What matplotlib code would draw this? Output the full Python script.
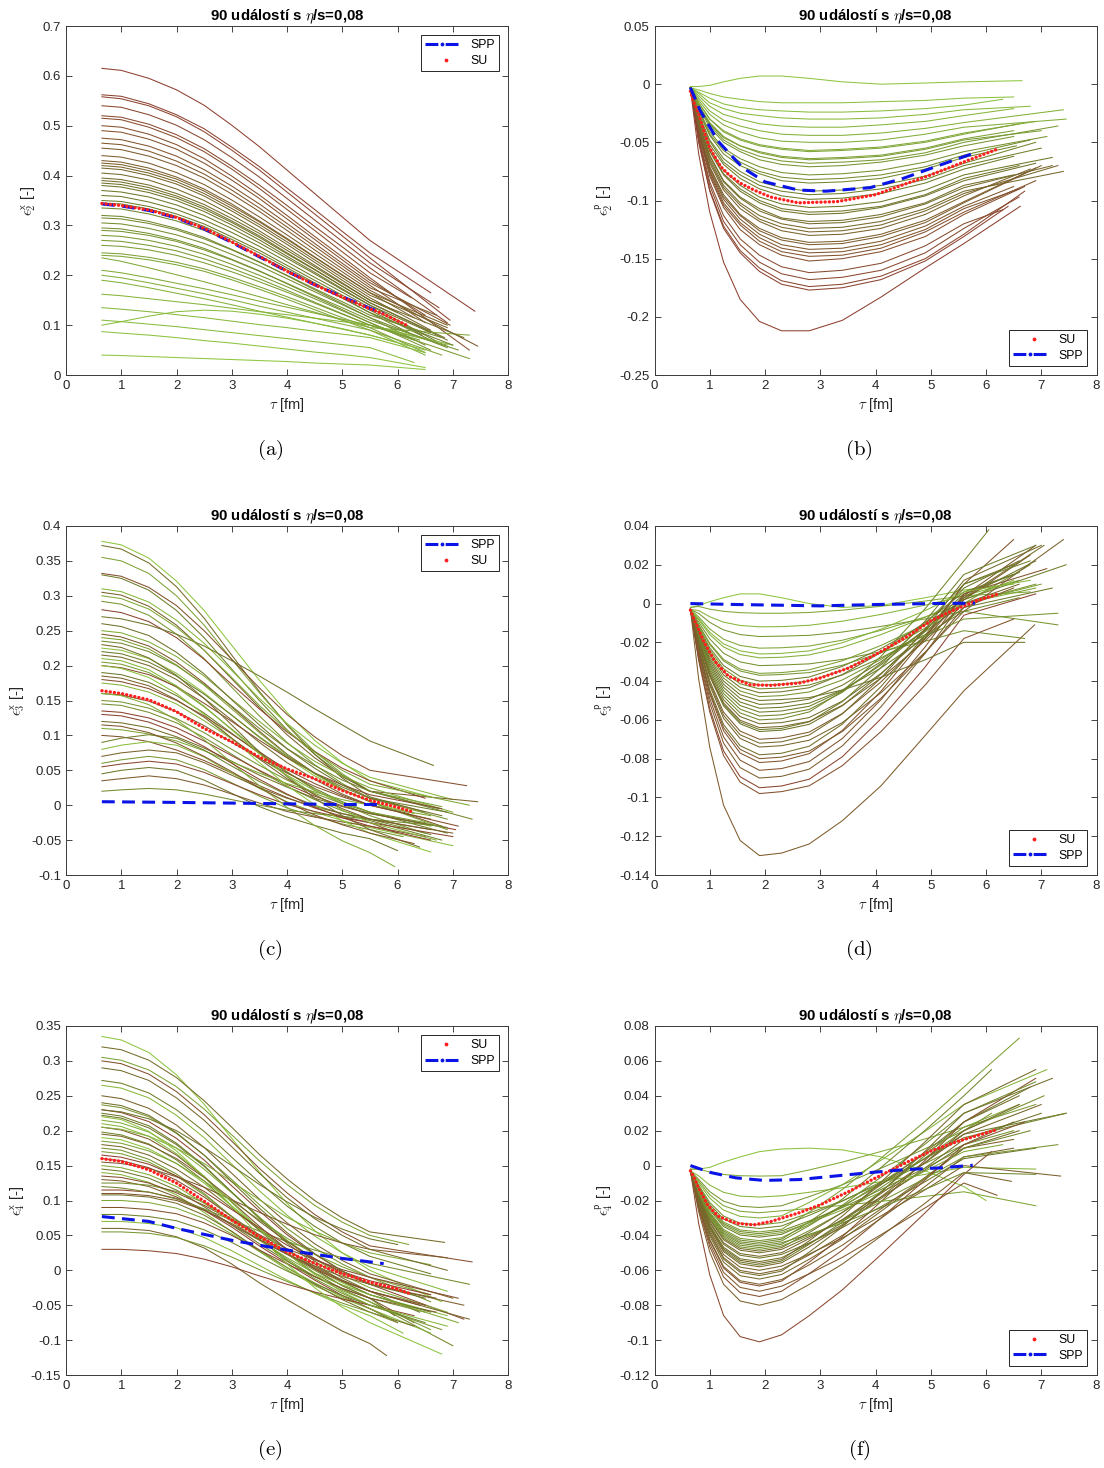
import numpy as np
import matplotlib
matplotlib.use("Agg")
import matplotlib.pyplot as plt
from matplotlib.colors import LinearSegmentedColormap
from matplotlib.legend_handler import HandlerLine2D
from matplotlib.lines import Line2D
from matplotlib.ticker import FuncFormatter

plt.rcParams['font.family'] = ['Liberation Sans', 'DejaVu Sans']
plt.rcParams['mathtext.fontset'] = 'cm'

# sampling times of the event curves (x-space and p-space eccentricities)
tau_x = [0.65, 1, 1.5, 2, 2.5, 3, 3.5, 4, 4.5, 5, 5.5]
tau_p = [0.65, 0.8, 1.0, 1.25, 1.55, 1.9, 2.3, 2.8, 3.4, 4.1, 4.9, 5.6]

# ---------------- eps_2^x ----------------
a_curves = [
    [.615, .611, .595, .572, .541, .501, .458, .411, .364, .317, .270],
    [.562, .559, .544, .522, .494, .457, .418, .375, .332, .288, .245],
    [.558, .554, .540, .518, .488, .451, .411, .367, .323, .279, .235],
    [.540, .537, .522, .501, .472, .436, .397, .354, .311, .268, .225],
    [.520, .517, .503, .482, .454, .419, .381, .340, .298, .257, .215],
    [.515, .512, .497, .476, .448, .413, .374, .332, .290, .247, .205],
    [.500, .497, .483, .462, .434, .399, .361, .320, .278, .237, .195],
    [.490, .487, .473, .453, .425, .391, .354, .313, .272, .231, .190],
    [.475, .472, .459, .439, .412, .379, .343, .304, .264, .224, .185],
    [.465, .462, .449, .429, .403, .371, .335, .297, .258, .219, .180],
    [.440, .437, .425, .406, .382, .351, .317, .281, .244, .207, .170],
    [.425, .422, .410, .393, .369, .339, .307, .272, .236, .200, .165],
    [.420, .417, .405, .388, .364, .334, .302, .267, .231, .195, .160],
    [.415, .412, .400, .383, .359, .329, .297, .262, .226, .190, .155],
    [.395, .392, .381, .364, .342, .314, .284, .250, .217, .183, .150],
    [.390, .387, .376, .359, .337, .309, .279, .245, .212, .178, .145],
    [.385, .382, .371, .355, .333, .306, .276, .243, .211, .178, .145],
    [.370, .367, .357, .341, .320, .294, .265, .234, .203, .171, .140],
    [.360, .358, .347, .332, .311, .286, .258, .227, .196, .166, .135],
    [.350, .348, .338, .323, .303, .277, .250, .220, .190, .160, .130],
    [.335, .333, .323, .309, .290, .266, .239, .211, .182, .154, .125],
    [.320, .318, .308, .294, .276, .252, .227, .199, .171, .143, .115],
    [.305, .303, .294, .281, .264, .242, .219, .193, .167, .141, .115],
    [.295, .293, .284, .271, .254, .232, .209, .183, .157, .131, .105],
    [.280, .278, .270, .258, .242, .222, .200, .177, .153, .129, .105],
    [.270, .268, .260, .249, .233, .214, .193, .170, .146, .123, .100],
    [.245, .243, .236, .226, .213, .196, .177, .157, .136, .115, .095],
    [.240, .238, .231, .221, .208, .191, .172, .152, .131, .110, .090],
    [.235, .228, .215, .201, .187, .172, .157, .141, .126, .110, .095],
    [.210, .205, .195, .184, .173, .161, .148, .136, .124, .112, .100],
    [.200, .195, .185, .174, .163, .151, .138, .126, .114, .102, .090],
    [.190, .185, .175, .164, .153, .141, .128, .116, .104, .092, .080],
    [.162, .159, .153, .147, .141, .134, .127, .121, .114, .107, .100],
    [.135, .132, .127, .121, .115, .108, .101, .095, .088, .082, .075],
    [.100, .107, .118, .127, .130, .128, .122, .114, .104, .093, .080],
    [.110, .107, .102, .097, .091, .085, .079, .073, .067, .061, .055],
    [.087, .084, .080, .075, .069, .064, .058, .052, .046, .041, .035],
    [.040, .039, .037, .035, .033, .031, .029, .027, .024, .022, .020],
    [.430, .427, .415, .397, .373, .343, .309, .274, .237, .201, .165],
    [.405, .402, .391, .373, .350, .321, .289, .255, .220, .185, .150],
    [.380, .377, .366, .350, .328, .301, .271, .238, .206, .173, .140],
    [.345, .343, .333, .318, .298, .272, .245, .215, .185, .155, .125],
    [.315, .313, .304, .291, .273, .251, .226, .200, .173, .147, .120],
    [.290, .288, .280, .268, .251, .231, .208, .184, .159, .135, .110],
    [.260, .258, .251, .240, .225, .207, .187, .166, .144, .122, .100],
    [.455, .452, .439, .420, .395, .363, .328, .290, .251, .213, .175],
]
a_end_tau = [7.4, 6.6, 6.95, 6.75, 6.9, 6.25, 7.3, 6.5, 6.95, 6.5, 7.45, 6.3, 6.9, 6.6, 6.0, 6.85, 6.9, 6.7, 6.45,
             6.6, 6.2, 6.9, 6.5, 6.3, 6.6, 7.3, 6.5, 6.8, 7.3, 6.9, 6.5, 6.0, 7.0, 6.5, 6.5, 6.3, 6.5, 6.5,
             6.9, 7.2, 6.6, 7.0, 6.8, 7.1, 6.4, 6.7]
a_end_val = [.128, .165, .11, .135, .105, .155, .05, .12, .10, .105, .058, .115, .095, .09, .125, .075, .07, .068, .08,
             .07, .085, .055, .06, .07, .05, .033, .045, .04, .08, .06, .04, .065, .06, .045, .05, .025, .015, .011,
             .10, .075, .085, .06, .075, .05, .07, .12]
a_su_tau = [0.65, 1, 1.5, 2, 2.5, 3, 3.5, 4, 4.5, 5, 5.5, 5.75, 6.2]
a_su = [.344, .340, .331, .316, .294, .267, .238, .208, .181, .156, .133, .122, .098]
a_spp_tau = [0.65, 1, 1.5, 2, 2.5, 3, 3.5, 4, 4.5, 5, 5.5, 5.75]
a_spp = [.343, .339, .330, .315, .293, .266, .237, .208, .181, .157, .134, .123]

# ---------------- eps_2^p ----------------
b_curves = [
    [-.002, -.002, -.001, .002, .005, .007, .007, .005, .002, .000, .001, .002],
    [-.003, -.005, -.008, -.011, -.013, -.015, -.016, -.016, -.016, -.015, -.014, -.012],
    [-.003, -.007, -.012, -.017, -.020, -.022, -.023, -.024, -.024, -.023, -.021, -.018],
    [-.003, -.008, -.016, -.021, -.025, -.027, -.029, -.030, -.030, -.029, -.026, -.022],
    [-.003, -.010, -.019, -.026, -.030, -.034, -.036, -.037, -.037, -.035, -.032, -.027],
    [-.003, -.012, -.023, -.031, -.036, -.040, -.043, -.044, -.044, -.042, -.038, -.033],
    [-.003, -.014, -.026, -.035, -.041, -.046, -.049, -.050, -.050, -.048, -.043, -.037],
    [-.003, -.016, -.030, -.040, -.047, -.052, -.055, -.057, -.056, -.054, -.049, -.042],
    [-.003, -.018, -.033, -.045, -.053, -.058, -.062, -.064, -.063, -.061, -.055, -.047],
    [-.003, -.018, -.034, -.046, -.053, -.059, -.063, -.065, -.064, -.062, -.056, -.048],
    [-.003, -.020, -.037, -.050, -.058, -.065, -.069, -.071, -.070, -.067, -.061, -.053],
    [-.003, -.022, -.041, -.055, -.064, -.071, -.076, -.078, -.077, -.074, -.067, -.058],
    [-.003, -.024, -.044, -.060, -.070, -.077, -.083, -.085, -.084, -.081, -.073, -.063],
    [-.003, -.026, -.048, -.064, -.075, -.084, -.089, -.092, -.091, -.087, -.079, -.068],
    [-.003, -.028, -.052, -.069, -.081, -.090, -.096, -.099, -.098, -.094, -.085, -.073],
    [-.003, -.030, -.055, -.074, -.087, -.097, -.103, -.106, -.105, -.101, -.091, -.078],
    [-.003, -.031, -.058, -.078, -.092, -.102, -.109, -.112, -.111, -.106, -.096, -.083],
    [-.003, -.033, -.061, -.083, -.097, -.107, -.115, -.118, -.117, -.112, -.102, -.087],
    [-.003, -.034, -.062, -.084, -.098, -.109, -.116, -.120, -.119, -.114, -.103, -.089],
    [-.003, -.035, -.064, -.087, -.102, -.113, -.120, -.124, -.123, -.118, -.107, -.092],
    [-.003, -.036, -.068, -.091, -.107, -.118, -.126, -.130, -.129, -.124, -.112, -.096],
    [-.003, -.038, -.071, -.095, -.112, -.124, -.132, -.136, -.135, -.129, -.117, -.101],
    [-.003, -.040, -.074, -.099, -.116, -.129, -.138, -.142, -.141, -.135, -.122, -.105],
    [-.003, -.041, -.075, -.102, -.119, -.132, -.141, -.145, -.144, -.138, -.125, -.107],
    [-.003, -.041, -.077, -.104, -.121, -.135, -.144, -.148, -.147, -.141, -.127, -.110],
    [-.003, -.045, -.084, -.113, -.133, -.147, -.157, -.162, -.160, -.154, -.139, -.120],
    [-.003, -.047, -.087, -.118, -.138, -.153, -.163, -.168, -.166, -.160, -.145, -.124],
    [-.003, -.049, -.091, -.122, -.143, -.158, -.169, -.174, -.172, -.165, -.150, -.129],
    [-.003, -.050, -.092, -.124, -.145, -.161, -.172, -.177, -.175, -.168, -.152, -.131],
    [-.004, -.060, -.110, -.153, -.185, -.204, -.212, -.212, -.203, -.183, -.158, -.137],
    [-.003, -.019, -.035, -.048, -.056, -.062, -.066, -.068, -.067, -.065, -.059, -.050],
    [-.003, -.023, -.043, -.057, -.067, -.075, -.080, -.082, -.081, -.078, -.071, -.061],
    [-.003, -.027, -.049, -.067, -.078, -.087, -.092, -.095, -.094, -.090, -.082, -.070],
    [-.003, -.031, -.057, -.077, -.090, -.100, -.107, -.110, -.109, -.105, -.095, -.081],
    [-.003, -.036, -.066, -.089, -.104, -.116, -.123, -.127, -.126, -.121, -.109, -.094],
    [-.003, -.039, -.072, -.097, -.113, -.126, -.134, -.138, -.137, -.131, -.119, -.102],
    [-.003, -.016, -.030, -.041, -.048, -.053, -.056, -.058, -.057, -.055, -.050, -.043],
    [-.003, -.043, -.079, -.106, -.125, -.138, -.147, -.152, -.150, -.144, -.131, -.112],
]
b_end_tau = [6.65, 6.5, 6.3, 6.8, 6.5, 7.4, 7.45, 6.9, 6.5, 7.0, 6.5, 7.1, 6.55, 6.9, 6.5,
             7.2, 6.9, 6.5, 7.2, 7.4, 6.8, 6.9, 6.5, 6.6, 6.9, 6.3, 6.6, 6.7, 6.4, 6.62,
             7.3, 6.8, 7.0, 6.6, 7.3, 7.0, 6.6, 6.7]
b_end_val = [.003, -.011, -.013, -.019, -.021, -.022, -.030, -.032, -.040, -.040, -.045, -.045, -.053, -.050, -.062,
             -.063, -.068, -.078, -.070, -.075, -.073, -.072, -.088, -.090, -.083, -.108, -.097, -.092, -.105, -.105,
             -.036, -.048, -.055, -.070, -.070, -.070, -.034, -.088]
b_su_tau = [0.65, 0.7, 0.8, 0.9, 1.0, 1.1, 1.2, 1.35, 1.55, 1.8, 2.1, 2.6, 3.3, 4.0, 5.0, 5.7, 6.2]
b_su = [-.006, -.014, -.026, -.041, -.055, -.063, -.071, -.078, -.085, -.091, -.097,
        -.102, -.101, -.095, -.078, -.065, -.056]
b_spp_tau = [0.65, 0.83, 1.15, 1.6, 2.0, 2.6, 3.1, 3.9, 4.5, 5.2, 5.8]
b_spp = [-.003, -.023, -.049, -.072, -.084, -.091, -.092, -.089, -.081, -.069, -.059]

# ---------------- eps_3^x ----------------
c_curves = [
    [.378, .373, .354, .321, .279, .229, .179, .133, .093, .061, .035],
    [.372, .367, .347, .313, .268, .215, .163, .115, .073, .039, .012],
    [.355, .350, .332, .300, .258, .209, .161, .116, .077, .045, .020],
    [.332, .328, .312, .286, .250, .209, .168, .130, .098, .071, .050],
    [.330, .325, .308, .279, .240, .195, .150, .108, .073, .043, .020],
    [.310, .306, .291, .265, .232, .193, .153, .117, .086, .060, .040],
    [.305, .301, .285, .258, .222, .181, .140, .101, .068, .041, .020],
    [.292, .288, .272, .245, .210, .169, .128, .090, .058, .031, .010],
    [.280, .276, .263, .240, .209, .173, .138, .105, .077, .053, .035],
    [.270, .267, .258, .245, .228, .207, .185, .162, .138, .115, .092],
    [.250, .247, .234, .213, .185, .152, .120, .089, .063, .042, .025],
    [.245, .241, .228, .205, .175, .141, .106, .073, .046, .023, .005],
    [.235, .232, .220, .200, .173, .142, .110, .081, .057, .036, .020],
    [.225, .222, .210, .189, .161, .129, .097, .068, .042, .022, .005],
    [.215, .212, .200, .180, .153, .122, .090, .061, .037, .016, .000],
    [.205, .202, .190, .169, .141, .109, .077, .048, .022, .002, -.015],
    [.200, .197, .187, .170, .146, .120, .093, .068, .046, .029, .015],
    [.190, .187, .176, .157, .132, .103, .074, .047, .024, .005, -.010],
    [.175, .172, .162, .145, .121, .095, .068, .043, .021, .004, -.010],
    [.160, .158, .149, .134, .114, .090, .067, .046, .027, .012, .000],
    [.145, .143, .133, .118, .097, .073, .049, .027, .008, -.008, -.020],
    [.135, .133, .125, .111, .092, .071, .050, .030, .013, -.001, -.012],
    [.120, .118, .111, .098, .082, .063, .043, .026, .010, -.002, -.012],
    [.110, .108, .102, .092, .078, .062, .046, .031, .019, .008, .000],
    [.100, .098, .091, .079, .064, .046, .028, .011, -.004, -.016, -.025],
    [.090, .096, .101, .096, .079, .056, .034, .015, .000, -.012, -.022],
    [.080, .086, .091, .086, .069, .046, .024, .005, -.010, -.022, -.032],
    [.070, .075, .079, .075, .061, .043, .025, .010, -.002, -.012, -.020],
    [.060, .065, .070, .065, .051, .032, .013, -.004, -.016, -.027, -.035],
    [.055, .059, .063, .059, .047, .031, .015, .001, -.009, -.018, -.025],
    [.045, .050, .054, .050, .036, .017, -.002, -.017, -.029, -.040, -.048],
    [.160, .157, .144, .122, .094, .061, .028, -.003, -.029, -.051, -.068],
    [.035, .038, .042, .038, .029, .016, .003, -.009, -.017, -.024, -.030],
    [.020, .022, .024, .022, .016, .008, .000, -.007, -.012, -.016, -.020],
    [.200, .196, .183, .160, .130, .096, .061, .028, .001, -.022, -.040],
    [.230, .226, .211, .186, .153, .115, .076, .041, .010, -.015, -.035],
    [.240, .237, .224, .201, .172, .138, .104, .072, .045, .023, .005],
    [.180, .177, .167, .150, .128, .102, .076, .051, .031, .014, .000],
    [.220, .217, .205, .185, .159, .129, .098, .070, .046, .026, .010],
    [.210, .207, .194, .171, .142, .108, .074, .042, .015, -.007, -.025],
    [.185, .182, .171, .151, .126, .096, .066, .038, .015, -.005, -.020],
    [.150, .148, .139, .124, .104, .080, .057, .036, .017, .002, -.010],
    [.130, .128, .119, .104, .084, .060, .037, .016, -.003, -.018, -.030],
    [.260, .256, .243, .219, .188, .151, .115, .081, .053, .029, .010],
    [.300, .296, .281, .255, .222, .183, .143, .107, .076, .050, .030],
    [.115, .113, .104, .089, .070, .048, .025, .004, -.014, -.028, -.040],
]
c_end_tau = [6.6, 6.5, 6.8, 7.25, 6.75, 7.0, 7.45, 6.9, 6.5, 6.65, 7.0, 6.8, 7.35, 6.3, 6.6, 6.5, 6.8, 6.9, 6.6,
             6.2, 6.6, 7.05, 6.9, 6.6, 6.0, 6.8, 7.0, 6.6, 6.1, 7.0, 6.0, 5.95, 6.5, 6.8, 6.6, 6.4, 6.9, 7.1,
             6.9, 6.7, 7.0, 6.5, 6.6, 6.8, 7.3, 6.3]
c_end_val = [.012, -.010, -.002, .028, -.005, .008, .005, -.020, .010, .057, -.010, -.030, -.020, -.012, -.020,
             -.040, -.005, -.040, -.030, -.012, -.042, -.035, -.032, -.015, -.040, -.050, -.058, -.035, -.045,
             -.045, -.065, -.088, -.045, -.030, -.067, -.060, -.035, -.030,
             -.010, -.050, -.040, -.025, -.050, -.015, .000, -.055]
c_su_tau = [0.65, 1, 1.5, 2, 2.5, 3, 3.5, 4, 4.5, 5, 5.5, 6, 6.25]
c_su = [.164, .160, .151, .134, .110, .091, .069, .052, .038, .021, .007, -.003, -.009]
c_spp_tau = [0.65, 2, 3, 4, 5, 5.75]
c_spp = [.005, .004, .003, .002, .001, .001]

# ---------------- eps_3^p ----------------
d_curves = [
    [-.002, -.001, .001, .003, .005, .005, .003, .000, -.002, -.001, .003, .007],
    [-.002, -.0015, -.0029, -.004, -.0047, -.005, -.005, -.0046, -.0034, -.0014, .0013, .004],
    [-.003, -.0036, -.0068, -.0096, -.0113, -.012, -.0119, -.0112, -.0091, -.0056, -.0008, .004],
    [-.003, -.0051, -.0097, -.0136, -.016, -.017, -.0168, -.0164, -.0147, -.0118, -.0079, -.004],
    [-.003, -.0069, -.0131, -.0184, -.0216, -.023, -.0228, -.0219, -.0189, -.0138, -.0069, .000],
    [-.003, -.0084, -.016, -.0224, -.0263, -.028, -.0277, -.0265, -.0226, -.016, -.007, .002],
    [-.003, -.0096, -.0182, -.0256, -.0301, -.032, -.0317, -.0311, -.0288, -.0248, -.0194, -.014],
    [-.003, -.0108, -.0205, -.0288, -.0338, -.036, -.0356, -.0342, -.0295, -.0216, -.0108, .000],
    [-.003, -.012, -.0228, -.032, -.0376, -.040, -.0396, -.0379, -.0324, -.0232, -.0106, .002],
    [-.003, -.0132, -.0251, -.0352, -.0414, -.044, -.0436, -.042, -.0368, -.028, -.016, -.004],
    [-.003, -.0144, -.0274, -.0384, -.0451, -.048, -.0475, -.0456, -.0394, -.0288, -.0144, .000],
    [-.003, -.0156, -.0296, -.0416, -.0489, -.052, -.0515, -.0493, -.0421, -.030, -.0135, .003],
    [-.003, -.0168, -.0319, -.0448, -.0526, -.056, -.0554, -.053, -.045, -.0316, -.0133, .005],
    [-.003, -.018, -.0342, -.048, -.0564, -.060, -.0594, -.0559, -.0452, -.0272, -.0026, .022],
    [-.003, -.0186, -.0353, -.0496, -.0583, -.062, -.0614, -.0588, -.0503, -.036, -.0165, .003],
    [-.003, -.0198, -.0376, -.0528, -.062, -.066, -.0653, -.0623, -.0527, -.0364, -.0142, .008],
    [-.003, -.021, -.0399, -.056, -.0658, -.070, -.0693, -.0663, -.0567, -.0404, -.0182, .004],
    [-.003, -.0222, -.0422, -.0592, -.0696, -.074, -.0733, -.0705, -.0614, -.046, -.025, -.004],
    [-.003, -.0234, -.0445, -.0624, -.0733, -.078, -.0772, -.0736, -.0622, -.0428, -.0164, .010],
    [-.003, -.0246, -.0467, -.0656, -.0771, -.082, -.0812, -.0774, -.0654, -.0452, -.0176, .010],
    [-.003, -.027, -.0513, -.072, -.0846, -.090, -.0891, -.0854, -.0734, -.0532, -.0256, .002],
    [-.003, -.0285, -.0542, -.076, -.0893, -.095, -.0941, -.0906, -.079, -.0594, -.0327, -.006],
    [-.003, -.0294, -.0559, -.0784, -.0921, -.098, -.097, -.094, -.0836, -.066, -.042, -.018],
    [-.003, -.039, -.0741, -.104, -.1222, -.130, -.1287, -.124, -.112, -.094, -.068, -.045],
    [-.003, -.015, -.0285, -.040, -.047, -.050, -.0495, -.0485, -.0446, -.038, -.029, -.020],
    [-.003, -.0111, -.0211, -.0296, -.0348, -.037, -.0366, -.0356, -.0318, -.0254, -.0167, -.008],
    [-.003, -.0195, -.0371, -.052, -.0611, -.065, -.0644, -.061, -.0506, -.033, -.009, .015],
    [-.003, -.0258, -.049, -.0688, -.0808, -.086, -.0851, -.0815, -.0696, -.0496, -.0223, .005],
    [-.003, -.0126, -.0239, -.0336, -.0395, -.042, -.0416, -.0399, -.0344, -.0252, -.0126, .000],
    [-.003, -.0138, -.0262, -.0368, -.0432, -.046, -.0455, -.0434, -.0366, -.0252, -.0096, .006],
    [-.003, -.0162, -.0308, -.0432, -.0508, -.054, -.0535, -.0514, -.0446, -.0332, -.0176, -.002],
    [-.003, -.0174, -.0331, -.0464, -.0545, -.058, -.0574, -.0546, -.0458, -.0308, -.0104, .010],
    [-.003, -.0192, -.0365, -.0512, -.0602, -.064, -.0634, -.0608, -.0525, -.0384, -.0192, .000],
    [-.003, -.0216, -.041, -.0576, -.0677, -.072, -.0713, -.0678, -.0569, -.0384, -.0132, .012],
    [-.003, -.0078, -.0148, -.0208, -.0244, -.026, -.0257, -.0244, -.0202, -.0132, -.0036, .006],
    [-.003, -.024, -.0456, -.064, -.0752, -.080, -.0792, -.0761, -.066, -.0488, -.0254, -.002],
]
d_end_tau = [6.5, 6.8, 6.6, 7.3, 6.9, 6.5, 6.7, 7.0, 7.45, 6.6, 6.8, 6.9, 6.5, 6.05, 7.05, 6.6, 6.9,
             7.4, 6.5, 6.5, 6.8, 6.9, 6.5, 6.88, 6.7, 7.3, 6.9, 7.1,
             6.9, 6.6, 7.2, 6.8, 6.6, 7.0, 6.8, 6.5]
d_end_val = [.010, .006, .012, -.011, .008, .012, -.018, .010, .020, .003, .020, .022, .015, .038, .030, .022, .030,
             .033, .020, .033, .025, .005, -.008, -.011, -.020, -.005, .030, .018,
             .010, .016, .008, .022, .010, .030, .012, .008]
d_su_tau = [0.65, 0.7, 0.77, 0.9, 1.09, 1.34, 1.73, 2.11, 2.62, 3.0, 3.52, 4.0, 4.54, 5.0, 5.38, 5.82, 6.22]
d_su = [-.0034, -.007, -.0116, -.020, -.0297, -.0375, -.0419, -.0422, -.041, -.0384, -.0332,
        -.0263, -.0176, -.009, -.0038, .0014, .0049]
d_spp_tau = [0.65, 1.5, 3.0, 4.0, 5.0, 5.8]
d_spp = [.000, -.0005, -.0012, -.0005, .000, .0002]

# ---------------- eps_4^x ----------------
e_curves = [
    [.335, .330, .312, .280, .238, .189, .141, .096, .057, .025, .000],
    [.320, .316, .301, .276, .243, .205, .166, .131, .100, .075, .055],
    [.305, .301, .287, .263, .231, .194, .157, .123, .093, .069, .050],
    [.300, .296, .281, .256, .223, .185, .146, .111, .080, .055, .035],
    [.272, .268, .254, .230, .199, .162, .126, .092, .063, .039, .020],
    [.265, .261, .247, .222, .190, .152, .114, .079, .049, .025, .005],
    [.250, .246, .232, .208, .176, .139, .102, .068, .038, .014, -.005],
    [.237, .233, .220, .196, .165, .130, .094, .060, .032, .009, -.010],
    [.230, .226, .213, .189, .158, .121, .085, .051, .023, -.001, -.020],
    [.222, .218, .204, .180, .149, .112, .076, .042, .013, -.011, -.030],
    [.215, .211, .198, .175, .145, .111, .076, .043, .016, -.007, -.025],
    [.205, .201, .188, .165, .134, .098, .063, .030, .002, -.022, -.040],
    [.198, .194, .181, .158, .128, .092, .057, .024, -.004, -.027, -.045],
    [.190, .187, .174, .153, .125, .092, .060, .029, .003, -.018, -.035],
    [.180, .177, .165, .145, .119, .089, .058, .030, .006, -.014, -.030],
    [.170, .167, .155, .135, .108, .077, .045, .016, -.009, -.029, -.045],
    [.160, .157, .147, .129, .105, .077, .050, .024, .002, -.016, -.030],
    [.145, .142, .132, .115, .091, .065, .038, .013, -.009, -.026, -.040],
    [.140, .137, .126, .108, .083, .055, .027, .001, -.022, -.040, -.055],
    [.130, .128, .120, .105, .087, .065, .043, .023, .006, -.009, -.020],
    [.125, .125, .122, .113, .097, .074, .047, .023, .000, -.022, -.040],
    [.115, .115, .112, .103, .086, .062, .035, .010, -.014, -.036, -.055],
    [.108, .108, .105, .096, .079, .056, .029, .004, -.020, -.042, -.060],
    [.100, .100, .097, .089, .074, .052, .027, .004, -.018, -.038, -.055],
    [.090, .090, .087, .081, .068, .050, .029, .009, -.009, -.026, -.040],
    [.080, .080, .077, .071, .058, .040, .019, -.001, -.019, -.036, -.050],
    [.070, .070, .067, .061, .047, .028, .007, -.014, -.033, -.050, -.065],
    [.060, .060, .057, .048, .032, .009, -.018, -.042, -.065, -.087, -.105],
    [.055, .055, .053, .047, .035, .019, .001, -.016, -.032, -.047, -.060],
    [.030, .030, .028, .024, .016, .005, -.008, -.020, -.031, -.041, -.050],
    [.230, .227, .217, .200, .176, .150, .123, .098, .076, .059, .045],
    [.205, .202, .192, .175, .153, .127, .101, .076, .056, .039, .025],
    [.155, .153, .146, .134, .119, .101, .083, .066, .051, .039, .030],
    [.120, .118, .112, .102, .088, .072, .056, .041, .029, .018, .010],
    [.220, .216, .199, .171, .134, .092, .049, .009, -.025, -.053, -.075],
    [.290, .286, .272, .247, .215, .177, .139, .104, .074, .050, .030],
    [.185, .182, .171, .153, .128, .100, .072, .046, .023, .005, -.010],
    [.135, .133, .125, .111, .093, .072, .051, .031, .015, .001, -.010],
    [.225, .221, .207, .182, .150, .112, .074, .039, .009, -.016, -.035],
    [.210, .206, .192, .167, .135, .097, .059, .024, -.006, -.031, -.050],
    [.195, .192, .180, .160, .133, .102, .070, .041, .017, -.004, -.020],
    [.175, .172, .159, .138, .110, .077, .045, .014, -.012, -.033, -.050],
    [.165, .162, .152, .135, .113, .087, .061, .036, .016, -.002, -.015],
    [.240, .236, .222, .197, .165, .127, .089, .054, .024, -.001, -.020],
    [.150, .147, .137, .120, .096, .070, .043, .018, -.004, -.021, -.035],
    [.110, .110, .107, .100, .086, .067, .044, .023, .004, -.015, -.030],
]
e_end_tau = [6.8, 6.85, 6.2, 7.35, 6.6, 6.9, 7.0, 6.6, 7.2, 6.4, 6.9, 6.3, 7.0, 6.9, 7.3, 6.6, 6.5, 5.95, 6.6,
             6.7, 6.5, 6.0, 6.3, 5.9, 6.7, 6.5, 6.1, 5.8, 6.0, 6.3, 6.0, 6.6, 6.9, 7.3, 6.8, 6.9, 6.6, 7.1,
             6.6, 6.9, 7.2, 6.8, 6.6, 6.5, 7.1, 6.4]
e_end_val = [-.045, .040, .037, .012, -.005, -.030, -.040, -.045, -.070, -.060, -.060, -.075, -.108, -.065, -.070,
             -.085, -.050, -.065, -.090, -.040, -.060, -.075, -.080, -.070, -.060, -.075, -.090, -.122, -.075,
             -.065, .037, .008, .018, -.020, -.120, .000, -.035, -.040,
             -.060, -.080, -.050, -.085, -.035, -.040, -.075, -.050]
e_su_tau = [0.65, 1, 1.5, 2, 2.5, 3, 3.5, 4, 4.5, 5, 5.5, 6, 6.21]
e_su = [.160, .156, .144, .125, .099, .072, .048, .026, .010, -.005, -.017, -.027, -.033]
e_spp_tau = [0.65, 1.5, 2, 3, 4, 5, 5.75]
e_spp = [.077, .070, .060, .043, .029, .017, .0096]

# ---------------- eps_4^p ----------------
f_curves = [
    [-.002, -.002, -.001, .002, .005, .008, .0095, .010, .009, .005, -.003, -.012],
    [-.002, -.002, -.0037, -.0051, -.0058, -.006, -.0058, -.0025, .002, .0081, .0153, .022],
    [-.003, -.0059, -.0112, -.0153, -.0175, -.018, -.0173, -.0153, -.0127, -.0092, -.005, -.001],
    [-.003, -.0079, -.0149, -.0204, -.0233, -.024, -.023, -.0178, -.011, -.0015, .0097, .020],
    [-.003, -.0089, -.0167, -.023, -.0262, -.027, -.0259, -.0246, -.0228, -.0205, -.0176, -.015],
    [-.003, -.0099, -.0186, -.0255, -.0291, -.030, -.0288, -.0211, -.0109, .0031, .0197, .035],
    [-.003, -.0112, -.0211, -.0289, -.033, -.034, -.0326, -.0272, -.0201, -.0103, .0013, .012],
    [-.003, -.0125, -.0236, -.0323, -.0369, -.038, -.0365, -.0267, -.0137, .0043, .0254, .045],
    [-.003, -.0135, -.0254, -.0349, -.0398, -.041, -.0394, -.0325, -.0233, -.0107, .0042, .018],
    [-.003, -.0145, -.0273, -.0374, -.0427, -.044, -.0422, -.0323, -.0192, -.0011, .0203, .040],
    [-.003, -.0155, -.0291, -.040, -.0456, -.047, -.0451, -.0373, -.0269, -.0126, .0044, .020],
    [-.003, -.0165, -.031, -.0425, -.0485, -.050, -.048, -.0408, -.0312, -.018, -.0024, .012],
    [-.003, -.0175, -.0329, -.0451, -.0514, -.053, -.0509, -.0443, -.0355, -.0235, -.0092, .004],
    [-.003, -.0188, -.0353, -.0485, -.0553, -.057, -.0547, -.0451, -.0324, -.0149, .0059, .025],
    [-.003, -.0198, -.0372, -.051, -.0582, -.060, -.0576, -.0507, -.0415, -.0288, -.0138, .000],
    [-.003, -.0215, -.0403, -.0553, -.0631, -.065, -.0624, -.0537, -.0421, -.0262, -.0074, .010],
    [-.003, -.0228, -.0428, -.0587, -.0669, -.069, -.0662, -.0553, -.0407, -.0206, .0031, .025],
    [-.003, -.0238, -.0446, -.0612, -.0698, -.072, -.0691, -.062, -.0526, -.0396, -.0242, -.010],
    [-.003, -.0264, -.0496, -.068, -.0776, -.080, -.0768, -.0681, -.0564, -.0404, -.0215, -.004],
    [-.003, -.0333, -.0626, -.0859, -.098, -.101, -.097, -.086, -.0712, -.051, -.027, -.005],
    [-.003, -.0152, -.0285, -.0391, -.0446, -.046, -.0442, -.0394, -.0329, -.0241, -.0136, -.004],
    [-.003, -.0119, -.0223, -.0306, -.0349, -.036, -.0346, -.0285, -.0204, -.0093, .004, .016],
    [-.003, -.0205, -.0384, -.0527, -.0601, -.062, -.0595, -.0512, -.040, -.0248, -.0067, .010],
    [-.003, -.0142, -.0267, -.0366, -.0417, -.043, -.0413, -.0337, -.0236, -.0097, .0068, .022],
    [-.003, -.0162, -.0304, -.0417, -.0475, -.049, -.047, -.0384, -.0268, -.011, .0077, .025],
    [-.003, -.0182, -.0341, -.0468, -.0534, -.055, -.0528, -.0447, -.0338, -.0189, -.0013, .015],
    [-.003, -.0132, -.0248, -.034, -.0388, -.040, -.0384, -.0328, -.0254, -.0152, -.0031, .008],
    [-.003, -.0248, -.0465, -.0638, -.0728, -.075, -.072, -.0619, -.0485, -.030, -.0082, .012],
    [-.003, -.0149, -.0279, -.0383, -.0437, -.045, -.0432, -.0344, -.0227, -.0066, .0124, .030],
    [-.003, -.0172, -.0322, -.0442, -.0504, -.052, -.0499, -.0418, -.0309, -.016, .0017, .018],
    [-.003, -.0191, -.036, -.0493, -.0563, -.058, -.0557, -.0466, -.0345, -.0179, .0018, .020],
    [-.003, -.0208, -.0391, -.0536, -.0611, -.063, -.0605, -.0496, -.0352, -.0153, .0083, .030],
    [-.003, -.0129, -.0242, -.0332, -.0378, -.039, -.0374, -.0317, -.0241, -.0137, -.0014, .010],
    [-.003, -.0224, -.0422, -.0578, -.066, -.068, -.0653, -.0569, -.0456, -.0302, -.0119, .005],
    [-.003, -.0158, -.0298, -.0408, -.0466, -.048, -.0461, -.040, -.0318, -.0206, -.0073, .005],
    [-.003, -.0185, -.0347, -.0476, -.0543, -.056, -.0538, -.0431, -.0289, -.0094, .0137, .035],
]
f_end_tau = [6.0, 6.6, 6.9, 6.1, 6.9, 7.1, 6.5, 6.6, 7.45, 6.1, 7.05, 6.5, 6.9, 6.8, 7.35, 6.6, 6.9, 6.2, 6.46,
             6.1, 6.9, 7.45, 6.5, 6.9, 6.6, 7.0, 6.3, 6.7,
             6.9, 7.0, 6.6, 7.2, 6.8, 6.5, 7.3, 6.9]
f_end_val = [-.020, .035, -.002, .030, -.023, .055, .020, .073, .030, .055, .040, .025, .010, .045, -.006, .020,
             .050, -.017, -.009, .008, -.005, .030, .015, .035, .040, .030, .012, .025,
             .048, .035, .035, .050, .020, .010, .012, .055]
f_su_tau = [0.65, 0.72, 0.8, 0.96, 1.15, 1.47, 1.79, 2.11, 2.62, 3.0, 3.52, 4.0, 4.54, 5.0, 5.5, 6.22]
f_su = [-.003, -.007, -.013, -.0225, -.029, -.033, -.034, -.032, -.027, -.0225, -.0148,
        -.0071, .0015, .0083, .014, .0208]
f_spp_tau = [0.65, 1.02, 1.47, 1.98, 2.62, 3.26, 3.9, 4.54, 5.18, 5.76]
f_spp = [.000, -.004, -.007, -.0085, -.008, -.006, -.004, -.0023, -.0013, .0002]

event_cmap = LinearSegmentedColormap.from_list('events', ['#8dc63f', '#6c7a28', '#8e3f2f'])
TXT = '#262626'
SU_RED = '#ff2020'
SPP_BLUE = '#0a14e6'


class DashThenDot(HandlerLine2D):
    # dashed segment with the point marker sitting at its right end
    def get_xdata(self, legend, xdescent, ydescent, width, height, fontsize):
        xdata = np.array([-xdescent, -xdescent + width * 0.82])
        return xdata, np.array([-xdescent + width])


def fmt(v, pos):
    v = round(v, 4)
    return '0' if v == 0 else f'{v:g}'


def rank01(values):
    order = np.argsort(np.argsort(values))
    return order / max(len(values) - 1, 1)


def mixed_shades(n):
    return (np.arange(n) * 0.618034) % 1.0


def depth_shades(curves):
    # deeper minima lean brown, the rest stays mixed
    depth = rank01([-min(c) for c in curves])
    return 0.3 * mixed_shades(len(curves)) + 0.7 * depth


def panel(ax, grid, curves, end_tau, end_val, shade, su, spp, ylim, ystep, ylabel, order, loc):
    for vals, te, ye, s in zip(curves, end_tau, end_val, shade, strict=True):
        ax.plot(list(grid) + [te], list(vals) + [ye], color=event_cmap(s), lw=0.75,
                solid_joinstyle='round')
    spp_line = Line2D([], [], color=SPP_BLUE, lw=2.2, ls='--', dashes=(4.2, 2.4),
                      marker='.', ms=3.5)
    su_mark = Line2D([], [], color=SU_RED, ls='none', marker='.', ms=3.5)
    for name in order:
        if name == 'SU':
            ax.plot(su[0], su[1], color=SU_RED, lw=2.4, dashes=(0.05, 1.2),
                    dash_capstyle='round')
        else:
            ax.plot(spp[0], spp[1], color=SPP_BLUE, lw=2.2, dashes=(4.2, 2.4))
    handles = [su_mark if n == 'SU' else spp_line for n in order]
    leg = ax.legend(handles, order, loc=loc, fontsize=8.8, fancybox=False, framealpha=1,
                    edgecolor='#262626', borderaxespad=0.75, handlelength=3.4, handletextpad=0.3,
                    numpoints=1, borderpad=0.35, labelspacing=0.3,
                    handler_map={spp_line: DashThenDot()})
    leg.get_frame().set_linewidth(0.7)
    ax.set_xlim(0, 8)
    ax.set_ylim(*ylim)
    ax.set_xticks(range(0, 9))
    ax.set_yticks(np.arange(ylim[0], ylim[1] + ystep / 2, ystep))
    ax.yaxis.set_major_formatter(FuncFormatter(fmt))
    ax.tick_params(direction='in', top=True, right=True, length=4, width=0.6,
                   colors=TXT, labelsize=9.5)
    for sp in ax.spines.values():
        sp.set_color('#3a3a3a')
        sp.set_linewidth(0.7)
    ax.set_title(r'90 událostí s $\eta$/s=0,08', fontsize=10.8, fontweight='bold', color='black', pad=4)
    ax.set_xlabel(r'$\tau$ [fm]', fontsize=10.5, color=TXT, labelpad=3)
    ax.set_ylabel(ylabel, fontsize=10.5, color=TXT, labelpad=3)


fig = plt.figure(figsize=(11.04, 14.68), dpi=100)
W, H = 1104, 1468
lefts = [66 / W, 654.5 / W]
bottoms = [1 - 375 / H, 1 - 875 / H, 1 - 1375 / H]
aw, ah = 442 / W, 349 / H
axs = [[fig.add_axes([l, b, aw, ah]) for l in lefts] for b in bottoms]

panel(axs[0][0], tau_x, a_curves, a_end_tau, a_end_val, rank01([c[0] for c in a_curves]),
      (a_su_tau, a_su), (a_spp_tau, a_spp), (0, 0.7), 0.1,
      r'$\epsilon^{\mathsf{x}}_{\mathsf{2}}$ [-]', ['SPP', 'SU'], 'upper right')
panel(axs[0][1], tau_p, b_curves, b_end_tau, b_end_val, rank01([-min(c) for c in b_curves]),
      (b_su_tau, b_su), (b_spp_tau, b_spp), (-0.25, 0.05), 0.05,
      r'$\epsilon^{\mathsf{p}}_{\mathsf{2}}$ [-]', ['SU', 'SPP'], 'lower right')
panel(axs[1][0], tau_x, c_curves, c_end_tau, c_end_val, mixed_shades(len(c_curves)),
      (c_su_tau, c_su), (c_spp_tau, c_spp), (-0.1, 0.4), 0.05,
      r'$\epsilon^{\mathsf{x}}_{\mathsf{3}}$ [-]', ['SPP', 'SU'], 'upper right')
panel(axs[1][1], tau_p, d_curves, d_end_tau, d_end_val, depth_shades(d_curves),
      (d_su_tau, d_su), (d_spp_tau, d_spp), (-0.14, 0.04), 0.02,
      r'$\epsilon^{\mathsf{p}}_{\mathsf{3}}$ [-]', ['SU', 'SPP'], 'lower right')
panel(axs[2][0], tau_x, e_curves, e_end_tau, e_end_val, mixed_shades(len(e_curves)),
      (e_su_tau, e_su), (e_spp_tau, e_spp), (-0.15, 0.35), 0.05,
      r'$\epsilon^{\mathsf{x}}_{\mathsf{4}}$ [-]', ['SU', 'SPP'], 'upper right')
panel(axs[2][1], tau_p, f_curves, f_end_tau, f_end_val, depth_shades(f_curves),
      (f_su_tau, f_su), (f_spp_tau, f_spp), (-0.12, 0.08), 0.02,
      r'$\epsilon^{\mathsf{p}}_{\mathsf{4}}$ [-]', ['SU', 'SPP'], 'lower right')

for row, ycap in enumerate([450, 950, 1450]):
    for col, xcap in enumerate([270, 859]):
        letter = 'abcdef'[row * 2 + col]
        fig.text(xcap / W, 1 - ycap / H, r'$\mathrm{(' + letter + ')}$', fontsize=15,
                 ha='center', va='center', color='black')

fig.savefig('out.png', dpi=100)
